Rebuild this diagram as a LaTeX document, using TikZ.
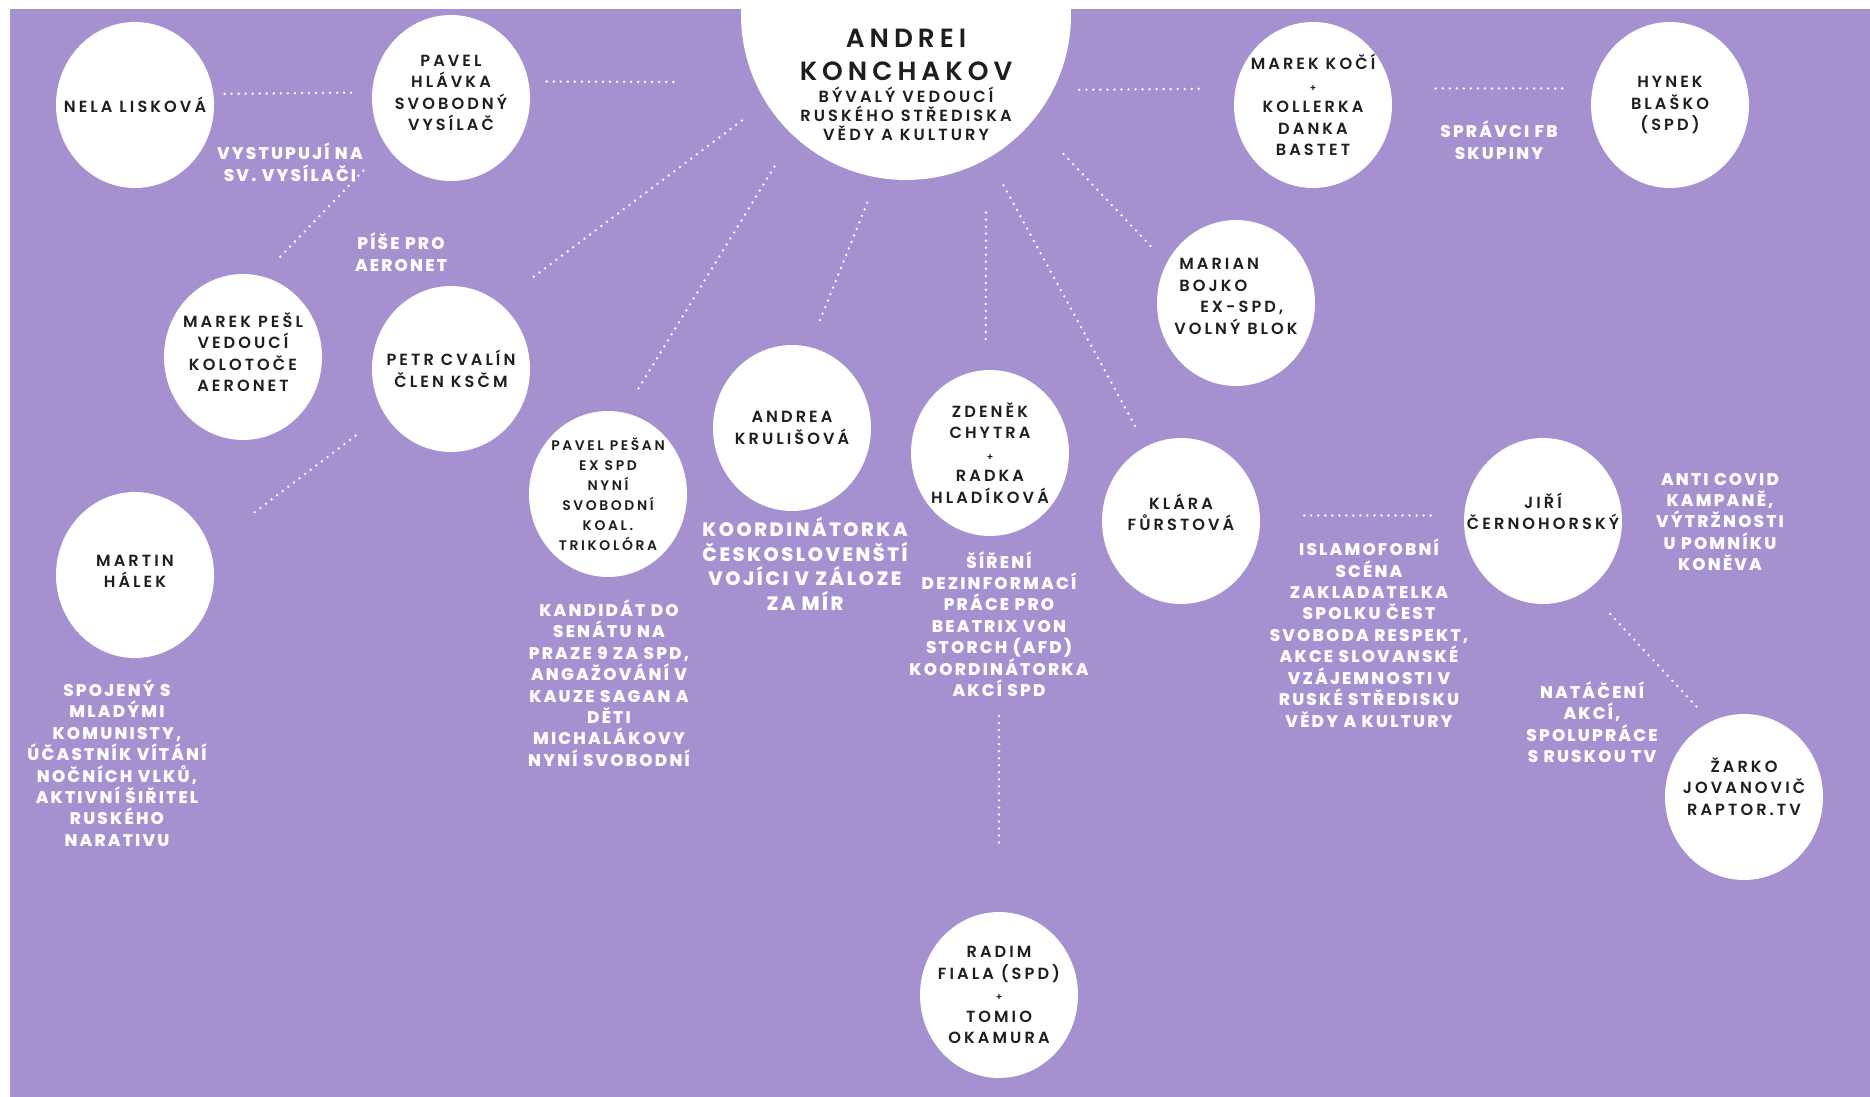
\documentclass[tikz,border=0pt]{standalone}
\usepackage{fontspec}
\setmainfont{Poppins}
\newfontfamily\namefont{Poppins}[UprightFont=* SemiBold,LetterSpace=19]
\newfontfamily\notefont{Poppins}[UprightFont=* ExtraBold,LetterSpace=13]
\usetikzlibrary{shapes}
\definecolor{lilac}{RGB}{165,145,207}
\definecolor{inkgrey}{RGB}{30,30,30}
\newcommand{\andsign}{{\fontsize{5.5}{5.5}\selectfont +}}
\tikzstyle{person}=[ellipse,fill=white,minimum width=3.16cm,minimum height=3.32cm,inner sep=0pt]
\tikzstyle{boss}=[ellipse,fill=white,minimum width=6.6cm,minimum height=6.6cm,inner sep=0pt]
\tikzstyle{nametext}=[align=center,text=inkgrey,inner sep=0pt,
font=\namefont\fontsize{9.2}{12.2}\selectfont]
\tikzstyle{smalltext}=[nametext,font=\namefont\fontsize{7.9}{11.3}\selectfont]
\tikzstyle{notetext}=[align=center,text=white,inner sep=0pt,
font=\notefont\fontsize{9.6}{12.2}\selectfont]
\tikzstyle{bignote}=[notetext,font=\notefont\fontsize{11}{14}\selectfont]
\tikzstyle{dotlink}=[draw=white,line width=1.5pt,line cap=round,dash pattern=on 0pt off 4pt]

\begin{document}
\begin{tikzpicture}[x=0.02cm,y=-0.02cm]
            \useasboundingbox (0,0) rectangle (1870,1097);
            \fill[white] (0,0) rectangle (1870,1097);
            \fill[lilac] (10,9) rectangle (1870,1097);

            % KONCHAKOV PART

            \node[boss,label={[nametext,yshift=-1.4cm,font=\namefont\fontsize{9.2}{10.8}\selectfont]center:{{\fontsize{15}{18.8}\selectfont ANDREI}\\[8pt]{\fontsize{15}{18.8}\selectfont KONCHAKOV}\\[1.4pt]BÝVALÝ VEDOUCÍ\\RUSKÉHO STŘEDISKA\\VĚDY A KULTURY}}] (andrei) at (906,15) {};

            % LEFT PART

            \node[person,label={[nametext]center:NELA LISKOVÁ}] (nela) at (135,105) {};
            \node[person,label={[nametext,yshift=0.1cm]center:{PAVEL\\HLÁVKA\\SVOBODNÝ\\VYSÍLAČ}}] (hlavka) at (451,98) {};
            \node[person,label={[nametext,yshift=0.1cm]center:{MAREK PEŠL\\VEDOUCÍ\\KOLOTOČE\\AERONET}}] (pesl) at (243,357) {};
            \node[person,label={[nametext]center:{PETR CVALÍN\\ČLEN KSČM}}] (cvalin) at (451,369) {};
            \node[person,label={[nametext,yshift=0.07cm]center:{MARTIN\\HÁLEK}}] (halek) at (135,575) {};

            \node[notetext] (vysilac) at (290,162) {VYSTUPUJÍ NA\\SV. VYSÍLAČI};
            \node[notetext] (aeronet) at (401,252) {PÍŠE PRO\\AERONET};
            \node[notetext] (spojeny) at (117,763) {SPOJENÝ S\\MLADÝMI\\KOMUNISTY,\\ÚČASTNÍK VÍTÁNÍ\\NOČNÍCH VLKŮ,\\AKTIVNÍ ŠIŘITEL\\RUSKÉHO\\NARATIVU};

            % MIDDLE PART

            \node[person,label={[smalltext]center:{PAVEL PEŠAN\\EX SPD\\NYNÍ\\SVOBODNÍ\\KOAL.\\TRIKOLÓRA}}] (pesan) at (608,494) {};
            \node[person,label={[nametext]center:{ANDREA\\KRULIŠOVÁ}}] (krulisova) at (792,428) {};
            \node[person,label={[nametext]center:{ZDENĚK\\CHYTRA\\\andsign\\RADKA\\HLADÍKOVÁ}}] (chytra) at (990,453) {};
            \node[person,label={[nametext]center:{RADIM\\FIALA (SPD)\\\andsign\\TOMIO\\OKAMURA}}] (fiala) at (999,995) {};

            \node[notetext] (kandidat) at (609,683) {KANDIDÁT DO\\SENÁTU NA\\PRAZE 9 ZA SPD,\\ANGAŽOVÁNÍ V\\KAUZE SAGAN A\\DĚTI\\MICHALÁKOVY\\NYNÍ SVOBODNÍ};
            \node[bignote] (koord) at (805,564) {KOORDINÁTORKA\\ČESKOSLOVENŠTÍ\\VOJÍCI V ZÁLOZE\\ZA MÍR};
            \node[notetext] (sireni) at (999,624) {ŠÍŘENÍ\\DEZINFORMACÍ\\PRÁCE PRO\\BEATRIX VON\\STORCH (AFD)\\KOORDINÁTORKA\\AKCÍ SPD};

            % RIGHT PART

            \node[person,label={[nametext]center:{MAREK KOČÍ\\\andsign\\KOLLERKA\\DANKA\\BASTET}}] (koci) at (1313,105) {};
            \node[person,label={[nametext]center:{HYNEK\\BLAŠKO\\(SPD)}}] (hynek) at (1670,105) {};
            \node[person,label={[nametext,align=left,yshift=0.13cm]center:{\hspace*{0.1cm}MARIAN\\\hspace*{0.1cm}BOJKO\\\hspace*{0.52cm}EX-SPD,\\VOLNÝ BLOK}}] (marian) at (1236,303) {};
            \node[person,label={[nametext,yshift=0.17cm]center:{KLÁRA\\FŮRSTOVÁ}}] (furstova) at (1181,521) {};
            \node[person,label={[nametext,yshift=0.19cm]center:{JIŘÍ\\ČERNOHORSKÝ}}] (cernohorsky) at (1543,521) {};
            \node[person,label={[nametext,yshift=0.21cm]center:{ŽARKO\\JOVANOVIČ\\RAPTOR.TV}}] (jovanovic) at (1744,797) {};

            \node[notetext] (spravci) at (1499,140) {SPRÁVCI FB\\SKUPINY};
            \node[notetext] (islam) at (1369,633) {ISLAMOFOBNÍ\\SCÉNA\\ZAKLADATELKA\\SPOLKU ČEST\\SVOBODA RESPEKT,\\AKCE SLOVANSKÉ\\VZÁJEMNOSTI V\\RUSKÉ STŘEDISKU\\VĚDY A KULTURY};
            \node[notetext] (covid) at (1720,522) {ANTI COVID\\KAMPANĚ,\\VÝTRŽNOSTI\\U POMNÍKU\\KONĚVA};
            \node[notetext] (nataceni) at (1592,722) {NATÁČENÍ\\AKCÍ,\\SPOLUPRÁCE\\S RUSKOU TV};

            % Connections

            \path[dotlink] (nela.8) edge[shorten <=0.22cm,shorten >=0.4cm] (hlavka.176);
            \path[dotlink] (hlavka.12) edge[shorten <=0.36cm,shorten >=1.62cm] (andrei.204);
            \path[dotlink] (andrei.-27) edge[shorten <=0.52cm,shorten >=0.6cm] (koci.168);
            \path[dotlink] (koci.12) edge[shorten <=0.9cm,shorten >=0.6cm] (hynek.168);
            \path[dotlink] (hlavka.217) edge[shorten <=0.67cm,shorten >=0.46cm] (pesl.77);
            \path[dotlink] (andrei.212) edge[shorten <=0.6cm,shorten >=0.86cm] (cvalin.54);
            \path[dotlink] (andrei.227) edge[shorten <=0.72cm,shorten >=0.56cm] (pesan.79);
            \path[dotlink] (andrei.260) edge[shorten <=0.54cm,shorten >=0.5cm] (krulisova.78);
            \path[dotlink] (andrei.-61) edge[shorten <=1.06cm,shorten >=0.48cm] (chytra.93);
            \path[dotlink] (andrei.-60) edge[shorten <=0.62cm,shorten >=0.46cm] (furstova.115);
            \path[dotlink] (andrei.-40) edge[shorten <=0.9cm,shorten >=0.36cm] (marian.150);
            \path[dotlink] (cvalin.214) edge[shorten <=0.72cm,shorten >=1.02cm] (halek.21);
            \path[dotlink] (sireni.south) edge[shorten <=0.38cm,shorten >=1.26cm] (fiala.north);
            \path[dotlink] (furstova.4) edge[shorten <=0.88cm,shorten >=0.66cm] (cernohorsky.176);
            \path[dotlink] (cernohorsky.-57) edge[shorten <=0.66cm,shorten >=0.33cm] (jovanovic.114);

\end{tikzpicture}
\end{document}
